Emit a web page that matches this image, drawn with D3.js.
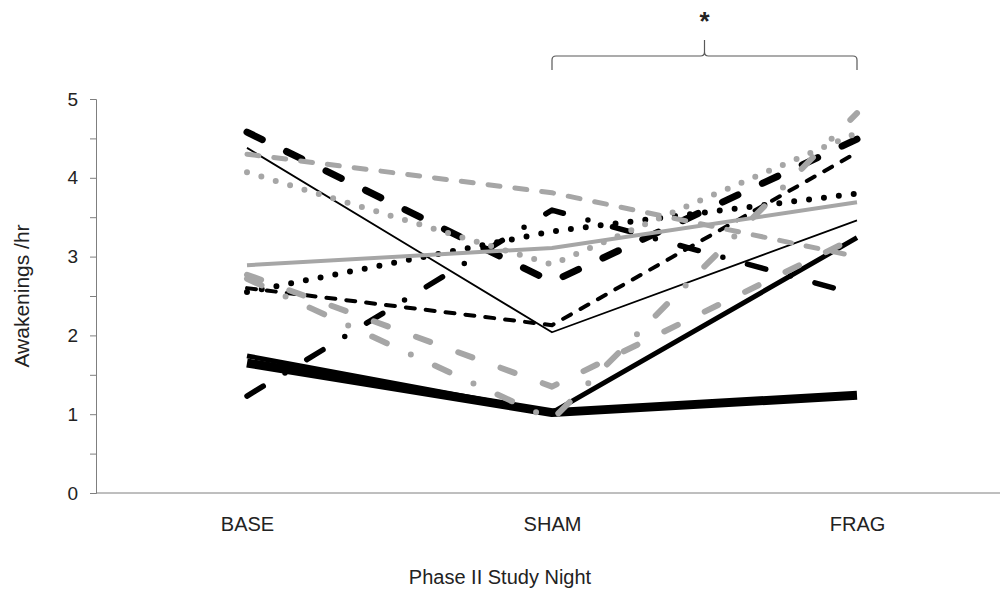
<!DOCTYPE html>
<meta charset="utf-8">
<head>
    <style>
body { margin: 0; background: #fff; }
text { font-family: "Liberation Sans", Arial, sans-serif; fill: #222; }
.axis path, .axis line { stroke: #7f7f7f; }
path.series { fill: none; stroke-linejoin: round; }
    </style>
</head>
<body>
<script src="https://cdnjs.cloudflare.com/ajax/libs/d3/7.8.5/d3.min.js"></script>
<script>
//-------------------------------DATA-------------------------------//
var nights = ["BASE", "SHAM", "FRAG"];
var yTicks = [0, 0.5, 1, 1.5, 2, 2.5, 3, 3.5, 4, 4.5, 5];

// one array per subject, values at BASE, SHAM, FRAG
var thickBlack    = [1.65, 1.02, 1.24];
var medBlack      = [1.74, 1.02, 3.24];
var thinBlack     = [4.38, 2.04, 3.46];
var blackLongDash = [4.58, 2.68, 4.49];
var blackDash     = [2.60, 2.13, 4.32];
var blackDot      = [2.55, 3.32, 3.80];
var blackDashDot  = [1.23, 3.59, 2.52];
var graySolid     = [2.89, 3.11, 3.69];
var grayDash      = [4.30, 3.81, 3.00];
var grayDot       = [4.07, 2.90, 4.57];
var grayLongDash  = [2.77, 1.35, 3.25];
var grayDashDot   = [2.72, 0.93, 4.82];

//------------------------------STYLES------------------------------//
var black = "#000", gray = "#a6a6a6";
var series = [
    {values: thickBlack,    color: black, w: 9,   dash: null},
    {values: medBlack,      color: black, w: 5,   dash: null},
    {values: thinBlack,     color: black, w: 1.8, dash: null},
    {values: blackLongDash, color: black, w: 7,   dash: "17,27"},
    {values: blackDash,     color: black, w: 4,   dash: "9,11"},
    {values: blackDot,      color: black, w: 6,   dash: "0,15"},
    {values: blackDashDot,  color: black, w: 5.5, dash: "19,25.5,0,25.5"},
    {values: graySolid,     color: gray,  w: 4,   dash: null},
    {values: grayDash,      color: gray,  w: 5,   dash: "12,15"},
    {values: grayDot,       color: gray,  w: 6,   dash: "0,15"},
    {values: grayLongDash,  color: gray,  w: 6,   dash: "15,30"},
    {values: grayDashDot,   color: gray,  w: 6,   dash: "16,26.5,0,26.5"}
];

//-------------------------------SVG--------------------------------//
var width = 1001, height = 595;
var svg = d3.select("body").append("svg")
    .attr("width", width)
    .attr("height", height);

var x = d3.scalePoint().domain(nights).range([247, 857]);
var y = d3.scaleLinear().domain([0, 5]).range([493, 99]);

//-------------------------------AXES-------------------------------//
var yaxis = d3.axisLeft(y)
    .tickValues(yTicks)
    .tickSize(6)
    .tickPadding(12)
    .tickFormat(function(d) { return d % 1 === 0 ? d : ""; });

svg.append("g")
    .attr("class", "axis")
    .attr("transform", "translate(96,0)")
    .call(yaxis)
    .call(function(g) { g.selectAll("text").style("font-size", "19px"); });

// x baseline spans the whole plot
svg.append("line")
    .attr("x1", 96).attr("x2", 1000)
    .attr("y1", y(0)).attr("y2", y(0))
    .attr("stroke", "#7f7f7f");

svg.append("g")
    .attr("class", "axis")
    .attr("transform", "translate(0," + y(0) + ")")
    .call(d3.axisBottom(x).tickSize(0).tickPadding(24))
    .call(function(g) {
        g.select(".domain").remove();
        g.selectAll("text").style("font-size", "20px");
    });

svg.append("text")
    .attr("x", 500).attr("y", 584)
    .style("text-anchor", "middle")
    .style("font-size", "20px")
    .text("Phase II Study Night");

svg.append("text")
    .attr("transform", "translate(29," + y(2.5) + ") rotate(-90)")
    .style("text-anchor", "middle")
    .style("font-size", "21px")
    .text("Awakenings /hr");

//------------------------------LINES-------------------------------//
var line = d3.line()
    .x(function(d, i) { return x(nights[i]); })
    .y(function(d) { return y(d); });

svg.selectAll("path.series")
    .data(series)
    .enter()
    .append("path")
    .attr("class", "series")
    .attr("d", function(d) { return line(d.values); })
    .attr("stroke", function(d) { return d.color; })
    .attr("stroke-width", function(d) { return d.w; })
    .attr("stroke-dasharray", function(d) { return d.dash; })
    .attr("stroke-linecap", function(d) { return d.dash ? "round" : "butt"; });

//------------------------SIGNIFICANCE BRACKET----------------------//
var bx0 = x("SHAM"), bx1 = x("FRAG"), bmid = (bx0 + bx1) / 2;
var by = 56, r = 4;
svg.append("path")
    .attr("fill", "none")
    .attr("stroke", "#595959")
    .attr("stroke-width", 1.2)
    .attr("d", "M" + bx0 + "," + (by + 14)
        + " L" + bx0 + "," + (by + r)
        + " Q" + bx0 + "," + by + " " + (bx0 + r) + "," + by
        + " L" + (bmid - r) + "," + by
        + " Q" + bmid + "," + by + " " + bmid + "," + (by - r)
        + " L" + bmid + "," + (by - 16)
        + " M" + bmid + "," + (by - r)
        + " Q" + bmid + "," + by + " " + (bmid + r) + "," + by
        + " L" + (bx1 - r) + "," + by
        + " Q" + bx1 + "," + by + " " + bx1 + "," + (by + r)
        + " L" + bx1 + "," + (by + 14));

svg.append("text")
    .attr("x", bmid).attr("y", 30)
    .style("text-anchor", "middle")
    .style("font-size", "26px")
    .style("font-weight", "bold")
    .text("*");
</script>
</body>
</html>
